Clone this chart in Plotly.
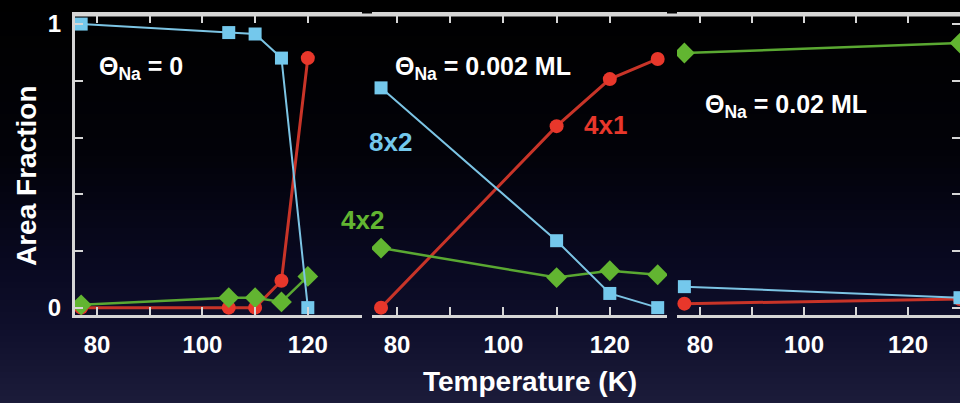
import plotly.graph_objects as go

# Temperatures (K) and area fractions for each Na coverage
temp_0 = [77, 105, 110, 115, 120]
frac_8x2_0 = [1.0, 0.97, 0.965, 0.88, 0.0]
frac_4x1_0 = [0.0, 0.0, 0.0, 0.095, 0.88]
frac_4x2_0 = [0.01, 0.035, 0.035, 0.02, 0.11]

temp_002 = [77, 110, 120, 129]
frac_8x2_002 = [0.775, 0.236, 0.05, 0.0]
frac_4x1_002 = [0.0, 0.64, 0.806, 0.877]
frac_4x2_002 = [0.21, 0.106, 0.13, 0.116]

temp_02 = [77, 130]
frac_8x2_02 = [0.074, 0.035]
frac_4x1_02 = [0.014, 0.03]
frac_4x2_02 = [0.898, 0.933]

x_ticks = [80, 90, 100, 110, 120]
x_tick_text = ["80", "", "100", "", "120"]
y_ticks = [0, 0.2, 0.4, 0.6, 0.8, 1]
y_tick_text = ["0", "", "", "", "", "1"]

BLUE = "#74c8ec"
BLUE_LINE = "#7cc4e4"
RED = "#e8372b"
RED_LINE = "#c83428"
GREEN = "#62b531"
GREEN_LINE = "#5aa832"
AXIS = "#d6d6d6"
FONT = "Liberation Sans"

W, H = 960, 403
TOP, BOTTOM = 15, 315  # plot area in pixels

fig = go.Figure()

panels = [
    ("x", "y", temp_0, frac_8x2_0, frac_4x1_0, frac_4x2_0),
    ("x2", "y2", temp_002, frac_8x2_002, frac_4x1_002, frac_4x2_002),
    ("x3", "y3", temp_02, frac_8x2_02, frac_4x1_02, frac_4x2_02),
]

for xa, ya, t, b, r, g in panels:
    fig.add_trace(go.Scatter(
        x=t, y=r, xaxis=xa, yaxis=ya, mode="lines+markers",
        line=dict(color=RED_LINE, width=3),
        marker=dict(symbol="circle", size=14, color=RED),
        showlegend=False, cliponaxis=True))
    fig.add_trace(go.Scatter(
        x=t, y=g, xaxis=xa, yaxis=ya, mode="lines+markers",
        line=dict(color=GREEN_LINE, width=2.5),
        marker=dict(symbol="diamond", size=16, color=GREEN),
        showlegend=False, cliponaxis=True))
    fig.add_trace(go.Scatter(
        x=t, y=b, xaxis=xa, yaxis=ya, mode="lines+markers",
        line=dict(color=BLUE_LINE, width=2),
        marker=dict(symbol="square", size=13, color=BLUE),
        showlegend=False, cliponaxis=True))


def px_x(p):
    return p / W


def px_y(p):
    return (BOTTOM - p) / (BOTTOM - TOP)


# background gradient: black at the top fading to dark navy at the bottom
stops = [(0, (0, 0, 0)), (150, (2, 2, 8)), (250, (8, 8, 30)),
         (320, (14, 14, 42)), (403, (28, 28, 58))]


def bg_color(p):
    for (p0, c0), (p1, c1) in zip(stops[:-1], stops[1:]):
        if p0 <= p <= p1:
            f = (p - p0) / (p1 - p0)
            return "rgb(%d,%d,%d)" % tuple(round(a + (b_ - a) * f) for a, b_ in zip(c0, c1))
    return "rgb(%d,%d,%d)" % stops[-1][1]


shapes = []
band = 6
for p in range(0, H, band):
    shapes.append(dict(type="rect", xref="paper", yref="paper",
                       x0=-0.01, x1=1.01, y0=px_y(p + band + 0.5), y1=px_y(p),
                       fillcolor=bg_color(p + band / 2), line=dict(width=0),
                       layer="below"))
# continuous frame line across the top of all three panels
shapes.append(dict(type="line", xref="paper", yref="paper",
                   x0=px_x(75), x1=1.0, y0=1, y1=1,
                   line=dict(color=AXIS, width=3), layer="above"))

tick_font = dict(family=FONT, size=24, color="white", weight="bold")

xcommon = dict(showline=True, linecolor=AXIS, linewidth=3, mirror="ticks",
               ticks="inside", ticklen=8, tickwidth=2, tickcolor=AXIS,
               tickvals=x_ticks, ticktext=x_tick_text, tickfont=tick_font,
               showgrid=False, zeroline=False, ticklabelstandoff=6)

yrange = [-0.026, 1.032]

fig.update_layout(
    width=W, height=H,
    margin=dict(l=0, r=0, t=TOP, b=H - BOTTOM),
    paper_bgcolor="black", plot_bgcolor="rgba(0,0,0,0)",
    shapes=shapes,
    xaxis=dict(domain=[px_x(75), px_x(362)], range=[75.83, 130.28], anchor="y", **xcommon),
    xaxis2=dict(domain=[px_x(372), px_x(667)], range=[75.3, 130.75], anchor="y2", **xcommon),
    xaxis3=dict(domain=[px_x(677), 1.0], range=[75.58, 130.0], anchor="y3", **xcommon),
    yaxis=dict(range=yrange, showline=True, linecolor=AXIS, linewidth=3,
               ticks="inside", ticklen=8, tickwidth=2, tickcolor=AXIS,
               tickvals=y_ticks, ticktext=y_tick_text, tickfont=tick_font,
               showgrid=False, zeroline=False, anchor="x", ticklabelstandoff=6),
    yaxis2=dict(range=yrange, showline=False, showticklabels=False, ticks="",
                showgrid=False, zeroline=False, anchor="x2"),
    yaxis3=dict(range=yrange, showline=True, linecolor=AXIS, linewidth=3,
                side="right", ticks="inside", ticklen=8, tickwidth=2, tickcolor=AXIS,
                tickvals=y_ticks, showticklabels=False,
                showgrid=False, zeroline=False, anchor="x3"),
)

label_font = dict(family=FONT, size=25, color="white", weight="bold")
annotations = [
    dict(text="Θ<sub>Na</sub> = 0", x=px_x(97), y=px_y(68), xanchor="left",
         font=label_font),
    dict(text="Θ<sub>Na</sub> = 0.002 ML", x=px_x(393), y=px_y(68), xanchor="left",
         font=label_font),
    dict(text="Θ<sub>Na</sub> = 0.02 ML", x=px_x(703), y=px_y(106), xanchor="left",
         font=label_font),
    dict(text="8x2", x=px_x(390), y=px_y(142), xanchor="center",
         font=dict(family=FONT, size=26, color=BLUE, weight="bold")),
    dict(text="4x1", x=px_x(605), y=px_y(125), xanchor="center",
         font=dict(family=FONT, size=26, color=RED, weight="bold")),
    dict(text="4x2", x=px_x(362), y=px_y(220), xanchor="center",
         font=dict(family=FONT, size=26, color=GREEN, weight="bold")),
    dict(text="Area Fraction", x=px_x(26), y=px_y(176), textangle=-90, xanchor="center",
         font=dict(family=FONT, size=28, color="white", weight="bold")),
    dict(text="Temperature (K)", x=px_x(530), y=px_y(381), xanchor="center",
         font=dict(family=FONT, size=28, color="white", weight="bold")),
]
for a in annotations:
    a.update(xref="paper", yref="paper", showarrow=False, yanchor="middle")
fig.update_layout(annotations=annotations)

fig.write_html("out.html")
